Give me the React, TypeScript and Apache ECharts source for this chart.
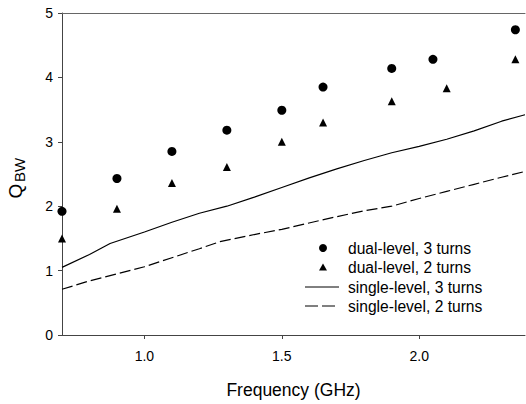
import React, { useEffect, useRef } from "react";
import * as echarts from "echarts";

const dual3: [number, number][] = [
  [0.70, 1.92], [0.90, 2.43], [1.10, 2.85], [1.30, 3.18], [1.50, 3.49],
  [1.65, 3.85], [1.90, 4.14], [2.05, 4.28], [2.35, 4.74],
];
const dual2: [number, number][] = [
  [0.70, 1.50], [0.90, 1.96], [1.10, 2.36], [1.30, 2.61], [1.50, 3.00],
  [1.65, 3.30], [1.90, 3.63], [2.10, 3.83], [2.35, 4.28],
];
const single3: [number, number][] = [
  [0.70, 1.05], [0.80, 1.25], [0.875, 1.42], [1.0, 1.60], [1.1, 1.75], [1.2, 1.89],
  [1.3, 2.00], [1.4, 2.14], [1.5, 2.29], [1.6, 2.44], [1.7, 2.58], [1.8, 2.71],
  [1.9, 2.83], [2.0, 2.93], [2.1, 3.04], [2.2, 3.17], [2.3, 3.32], [2.385, 3.42],
];
const single2: [number, number][] = [
  [0.70, 0.71], [0.8, 0.84], [0.9, 0.95], [1.0, 1.06], [1.1, 1.20], [1.2, 1.34],
  [1.275, 1.45], [1.4, 1.56], [1.5, 1.64], [1.66, 1.80], [1.8, 1.93], [1.9, 2.00],
  [2.0, 2.12], [2.1, 2.23], [2.2, 2.34], [2.3, 2.45], [2.385, 2.54],
];
const xTicks = [1.0, 1.5, 2.0];
const seriesNames = [
  "dual-level, 3 turns",
  "dual-level, 2 turns",
  "single-level, 3 turns",
  "single-level, 2 turns",
];

const FONT = "'Liberation Sans', Arial, sans-serif";
const DASH = [11, 4];

export default function App() {
  const ref = useRef<HTMLDivElement>(null);
  useEffect(() => {
    if (!ref.current) return;
    const chart = echarts.init(ref.current, null, { renderer: "svg" });
    const axisColor = "#444";

    // legend drawn as graphic elements
    const lgX = 305, lgTextX = 348;
    const rows = [248, 267, 287, 306];
    const legendGraphics: any[] = [
      { type: "circle", shape: { cx: 323, cy: rows[0], r: 4 }, style: { fill: "#000" } },
      {
        type: "polygon",
        shape: { points: [[319, rows[1] + 3.5], [327, rows[1] + 3.5], [323, rows[1] - 3.5]] },
        style: { fill: "#000" },
      },
      { type: "line", shape: { x1: lgX, y1: rows[2], x2: lgX + 34, y2: rows[2] }, style: { stroke: "#000", lineWidth: 1 } },
      {
        type: "line",
        shape: { x1: lgX, y1: rows[3], x2: lgX + 34, y2: rows[3] },
        style: { stroke: "#000", lineWidth: 1, lineDash: [13, 4] },
      },
      ...seriesNames.map((n, i) => ({
        type: "text",
        x: lgTextX,
        y: rows[i],
        style: { text: n, fontSize: 15.6, fontFamily: FONT, fill: "#000", textVerticalAlign: "middle" },
      })),
    ];

    chart.setOption({
      animation: false,
      backgroundColor: "#fff",
      textStyle: { fontFamily: FONT },
      grid: { left: 62, right: 1, top: 13, bottom: 67 },
      xAxis: [
        {
          type: "value",
          min: 0.7,
          max: 2.385,
          name: "Frequency (GHz)",
          nameLocation: "middle",
          nameGap: 46,
          nameTextStyle: { fontSize: 17.5, color: "#000", fontFamily: FONT },
          splitLine: { show: false },
          axisLine: { show: true, lineStyle: { color: axisColor, width: 1 } },
          axisTick: { show: true, length: 4, customValues: xTicks, lineStyle: { color: axisColor } },
          axisLabel: {
            customValues: xTicks,
            formatter: (v: number) => v.toFixed(1),
            fontSize: 14,
            color: "#000",
            margin: 14,
            fontFamily: FONT,
          },
        },
        {
          type: "value",
          position: "top",
          min: 0.7,
          max: 2.385,
          splitLine: { show: false },
          axisLine: { show: true, lineStyle: { color: "#666", width: 1 } },
          axisTick: { show: false },
          axisLabel: { show: false },
        },
      ],
      yAxis: {
        type: "value",
        min: 0,
        max: 5,
        interval: 1,
        splitLine: { show: false },
        axisLine: { show: true, lineStyle: { color: axisColor, width: 1 } },
        axisTick: { show: true, length: 4, lineStyle: { color: axisColor } },
        axisLabel: { fontSize: 14, color: "#000", margin: 9, fontFamily: FONT },
      },
      graphic: [
        {
          type: "text",
          x: 15,
          y: 191,
          rotation: Math.PI / 2,
          style: { text: "Q", fontSize: 19, fontFamily: FONT, fill: "#000", textAlign: "center", textVerticalAlign: "middle" },
        },
        {
          type: "text",
          x: 19,
          y: 170,
          rotation: Math.PI / 2,
          style: { text: "BW", fontSize: 15, fontFamily: FONT, fill: "#000", textAlign: "center", textVerticalAlign: "middle" },
        },
        ...legendGraphics,
      ],
      series: [
        {
          name: seriesNames[0],
          type: "scatter",
          data: dual3,
          symbol: "circle",
          symbolSize: 9,
          itemStyle: { color: "#000", opacity: 1 },
        },
        {
          name: seriesNames[1],
          type: "scatter",
          data: dual2,
          symbol: "triangle",
          symbolSize: 8,
          itemStyle: { color: "#000", opacity: 1 },
        },
        {
          name: seriesNames[2],
          type: "line",
          data: single3,
          symbol: "none",
          lineStyle: { color: "#000", width: 1.2 },
        },
        {
          name: seriesNames[3],
          type: "line",
          data: single2,
          symbol: "none",
          lineStyle: { color: "#000", width: 1.2, type: DASH },
        },
      ],
    });
    return () => chart.dispose();
  }, []);
  return (
    <div
      ref={ref}
      style={{ position: "fixed", left: 0, top: 0, width: 526, height: 404 }}
    />
  );
}
